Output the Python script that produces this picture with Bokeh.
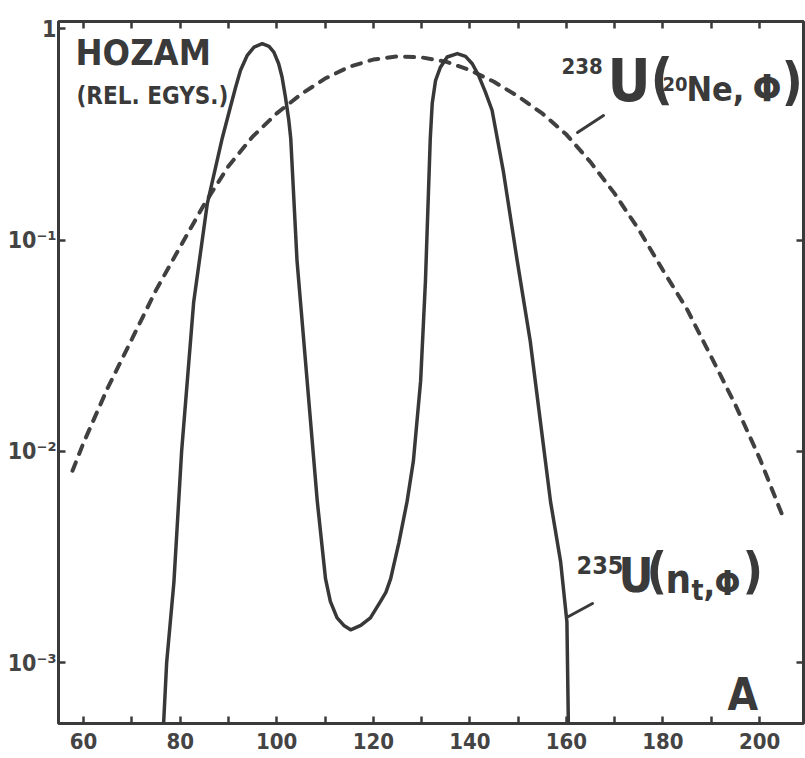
from bokeh.plotting import figure
from bokeh.models import Range1d, FixedTicker, LinearAxis, LogAxis, Label
from bokeh.embed import file_html
from bokeh.resources import INLINE

# ---------------- data ----------------
# 235U(n_t, f) mass-yield curve (solid)
solid_mass = [76.2, 77.2, 78.7, 80.3, 82.8, 85.6, 88.7, 90.4, 91.5, 92.5, 93.9, 95.3,
              97.0, 98.4, 99.4, 100.4, 101.1, 101.8, 102.5, 102.9, 104.2, 106.3, 108.4,
              110.1, 111.1, 112.5, 113.9, 115.3, 117.4, 119.4, 121.5, 122.6, 123.6, 125.3,
              127.0, 128.3, 129.8, 130.8, 131.8, 132.2, 132.9, 133.9, 135.3, 137.4, 139.1,
              140.5, 141.8, 143.2, 144.6, 146.9, 149.8, 152.5, 154.6, 156.7, 158.8, 160.1,
              160.5]
solid_yield = [3.5e-4, 1.0e-3, 2.4e-3, 1.0e-2, 0.051, 0.148, 0.303, 0.427, 0.531, 0.637,
               0.750, 0.820, 0.851, 0.826, 0.776, 0.684, 0.592, 0.476, 0.369, 0.303, 0.080,
               0.0215, 0.0058, 0.0025, 0.00195, 0.00163, 0.00150, 0.00143, 0.00150, 0.00163,
               0.00195, 0.00215, 0.0025, 0.0037, 0.0058, 0.0090, 0.0215, 0.064, 0.303,
               0.443, 0.571, 0.659, 0.736, 0.764, 0.741, 0.684, 0.603, 0.503, 0.412, 0.214,
               0.080, 0.0333, 0.0139, 0.0058, 0.0030, 0.00156, 3.5e-4]

# 238U(20Ne, f) mass-yield curve (dashed)
dash_mass = [57.7, 60, 65, 70, 75, 80, 85, 90, 95, 100, 105, 110, 115, 120, 125, 130,
             135, 140, 145, 150, 155, 160, 165, 170, 175, 180, 185, 190, 195, 200, 205]
dash_yield = [0.0081, 0.011, 0.020, 0.034, 0.058, 0.093, 0.148, 0.224, 0.309, 0.398,
              0.490, 0.582, 0.661, 0.716, 0.741, 0.733, 0.700, 0.638, 0.562, 0.479,
              0.398, 0.316, 0.234, 0.166, 0.112, 0.072, 0.047, 0.028, 0.0166, 0.0093,
              0.0048]

x_tick_values = [60, 70, 80, 90, 100, 110, 120, 130, 140, 150, 160, 170, 180, 190, 200]
x_tick_labels = ["60", "", "80", "", "100", "", "120", "", "140", "", "160", "", "180", "", "200"]
y_tick_values = [0.001, 0.01, 0.1, 1]
y_tick_labels = ["10⁻³", "10⁻²", "10⁻¹", "1"]
y_right_ticks = [0.001, 0.01, 0.1]

# ---------------- layout ----------------
X0, X1 = 54.8, 209.1
YL0, YL1 = -3.288, 0.035
W, H = 805, 758
BL, BR, BT, BB = 58, 2, 21, 35
FW, FH = W - BL - BR, H - BT - BB

INK = "#3a3a3a"
FONT = "DejaVu Sans Condensed"


def dx(px):
    return X0 + (px - BL) * (X1 - X0) / FW


def dy(py):
    return 10 ** (YL1 - (py - BT) * (YL1 - YL0) / FH)


p = figure(width=W, height=H, x_range=Range1d(X0, X1),
           y_range=Range1d(10 ** YL0, 10 ** YL1), y_axis_type="log",
           output_backend="svg", toolbar_location=None,
           min_border_left=BL, min_border_right=BR, min_border_top=BT, min_border_bottom=BB)
p.background_fill_color = "white"
p.border_fill_color = "white"
p.xgrid.visible = False
p.ygrid.visible = False
p.outline_line_color = INK
p.outline_line_width = 3

# bottom axis
xa = p.xaxis[0]
xa.ticker = FixedTicker(ticks=x_tick_values)
xa.major_label_overrides = {v: t for v, t in zip(x_tick_values, x_tick_labels)}
# left axis
ya = p.yaxis[0]
ya.ticker = FixedTicker(ticks=y_tick_values)
ya.major_label_overrides = {v: t for v, t in zip(y_tick_values, y_tick_labels)}

top = LinearAxis(ticker=FixedTicker(ticks=x_tick_values))
right = LogAxis(ticker=FixedTicker(ticks=y_right_ticks))
p.add_layout(top, "above")
p.add_layout(right, "right")

for ax in (xa, ya, top, right):
    ax.axis_line_color = None
    ax.major_tick_in = 7
    ax.major_tick_out = 0
    ax.major_tick_line_color = INK
    ax.major_tick_line_width = 2.5
    ax.minor_tick_line_color = None
    ax.major_label_text_font = FONT
    ax.major_label_text_font_style = "bold"
    ax.major_label_text_color = "#444444"
for ax in (top, right):
    ax.major_label_text_font_size = "1px"
    ax.major_label_text_color = None
    ax.major_label_standoff = 0
xa.major_label_text_font_size = "22px"
xa.major_label_standoff = 9
ya.major_label_text_font_size = "23px"
ya.major_label_standoff = 2

# curves
p.line(dash_mass, dash_yield, line_color="#404040", line_width=4,
       line_dash="9 9", line_cap="round")
p.line(solid_mass, solid_yield, line_color="#383838", line_width=3.5,
       line_join="round")

# leader lines
p.segment(x0=[dx(577), dx(568)], y0=[dy(132), dy(616)],
          x1=[dx(603), dx(592)], y1=[dy(115), dy(603)],
          line_color=INK, line_width=3, line_cap="round")

# texts: (text, left px, baseline px, size px)
pieces = [
    ("HOZAM", 75, 67, 36),
    ("(REL. EGYS.)", 76, 106, 24),
    ("238", 561, 75, 22),
    ("U", 607, 105, 59),
    ("(", 650, 102, 55),
    ("20", 662, 92, 20),
    ("Ne,", 686, 103, 34),
    ("Φ", 752, 103, 38),
    (")", 781, 102, 52),
    ("235", 576, 575, 25),
    ("U", 618, 595, 48),
    ("(", 646, 591, 50),
    ("n", 665, 595, 40),
    ("t", 691, 602, 28),
    (",", 703, 597, 34),
    ("Φ", 714, 597, 34),
    (")", 742, 591, 50),
    ("A", 727, 712, 44),
]
BASE_SHIFT = 0.42  # rendered baseline sits this fraction of the size below the anchor
for txt, lx, by, sz in pieces:
    p.add_layout(Label(x=dx(lx), y=dy(by - BASE_SHIFT * sz), text=txt, text_font=FONT,
                       text_font_style="bold", text_font_size=f"{sz}px",
                       text_color=INK, text_align="left", text_baseline="alphabetic"))

open("out.html", "w").write(file_html(p, INLINE))
